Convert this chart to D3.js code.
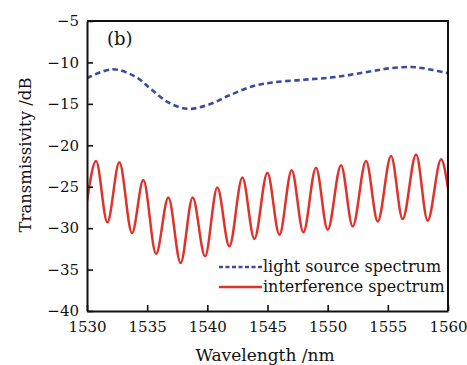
<!DOCTYPE html>
<html>
<head>
<meta charset="utf-8">
<script src="https://cdn.jsdelivr.net/npm/d3@7"></script>
<style>
  html, body { margin: 0; padding: 0; background: #fff; }
  svg { display: block; }
  text { font-family: "DejaVu Serif", "Liberation Serif", serif; fill: #111; }
</style>
</head>
<body>
<svg id="chart" width="467" height="365"></svg>
<script>
// Wavelength axis (nm) and transmissivity axis (dB)
const xTicks = [1530, 1535, 1540, 1545, 1550, 1555, 1560];
const yTicks = [-40, -35, -30, -25, -20, -15, -10, -5];

// Light source spectrum (broad envelope)
const sourceWl = [1530.0, 1532.1, 1534.0, 1535.3, 1536.8, 1538.4, 1540.1, 1541.8, 1543.7, 1545.5, 1548.0, 1550.7, 1553.5, 1555.2, 1557.0, 1558.5, 1560.0];
const sourceDb = [-11.9, -10.83, -11.7, -13.2, -14.86, -15.6, -15.1, -14.0, -12.9, -12.4, -12.1, -11.75, -11.1, -10.7, -10.55, -10.85, -11.3];

// Interference spectrum: fringe peaks and dips
const fringeWl = [1530.0, 1530.75, 1531.69, 1532.69, 1533.74, 1534.68, 1535.74, 1536.76, 1537.78, 1538.78, 1539.81, 1540.83, 1541.83, 1542.91, 1543.91, 1544.99, 1545.99, 1547.01, 1547.98, 1549.03, 1550.0, 1551.11, 1552.08, 1553.19, 1554.16, 1555.27, 1556.23, 1557.35, 1558.31, 1559.43, 1560.0];
const fringeDb = [-26.8, -21.9, -29.3, -22.05, -30.6, -24.2, -33.1, -26.3, -34.2, -26.3, -33.4, -25.1, -32.2, -23.9, -31.3, -23.3, -30.8, -23.0, -30.5, -22.7, -30.2, -22.4, -29.8, -21.9, -29.2, -21.3, -28.9, -21.1, -29.1, -21.7, -25.2];

const legendLabels = ["light source spectrum", "interference spectrum"];
const panelLabel = "(b)";

const svg = d3.select("#chart");
const m = { left: 87, top: 21, right: 448, bottom: 311 };

const x = d3.scaleLinear().domain([1530, 1560]).range([m.left, m.right]);
const y = d3.scaleLinear().domain([-40, -5]).range([m.bottom, m.top]);

const plot = svg.append("g");
svg.append("clipPath").attr("id", "plotclip")
  .append("rect").attr("x", m.left).attr("y", m.top)
  .attr("width", m.right - m.left).attr("height", m.bottom - m.top);

const line = d3.line().x(d => x(d[0])).y(d => y(d[1]));

const sourcePts = sourceWl.map((w, i) => [w, sourceDb[i]]);
const fringePts = fringeWl.map((w, i) => [w, fringeDb[i]]);

plot.append("path")
  .datum(fringePts)
  .attr("clip-path", "url(#plotclip)")
  .attr("d", line.curve(d3.curveMonotoneX))
  .attr("fill", "none")
  .attr("stroke", "#e0322b")
  .attr("stroke-width", 2.5);

plot.append("path")
  .datum(sourcePts)
  .attr("clip-path", "url(#plotclip)")
  .attr("d", line.curve(d3.curveCatmullRom))
  .attr("fill", "none")
  .attr("stroke", "#3a4aa0")
  .attr("stroke-width", 2.6)
  .attr("stroke-dasharray", "5.5,3.5");

// Axes with inward ticks
const xAxis = svg.append("g")
  .attr("transform", `translate(0,${m.bottom})`)
  .call(d3.axisBottom(x).tickValues(xTicks).tickSizeInner(-6).tickSizeOuter(0).tickPadding(10).tickFormat(d3.format("d")));
const yAxis = svg.append("g")
  .attr("transform", `translate(${m.left},0)`)
  .call(d3.axisLeft(y).tickValues(yTicks).tickSizeInner(-6).tickSizeOuter(0).tickPadding(8));

[xAxis, yAxis].forEach(g => {
  g.select(".domain").attr("stroke", "#111").attr("stroke-width", 2);
  g.selectAll(".tick line").attr("stroke", "#111").attr("stroke-width", 1.6);
  g.selectAll(".tick text").style("font-family", "DejaVu Serif, serif").style("font-size", "15px").attr("fill", "#111");
});

// Top and right frame
svg.append("path")
  .attr("d", `M${m.left},${m.top}H${m.right}V${m.bottom}`)
  .attr("fill", "none").attr("stroke", "#111").attr("stroke-width", 2);

// Axis titles
svg.append("text")
  .attr("x", 265)
  .attr("y", 361)
  .attr("text-anchor", "middle")
  .style("font-size", "17px")
  .text("Wavelength /nm");

svg.append("text")
  .attr("transform", `translate(31,155) rotate(-90)`)
  .attr("text-anchor", "middle")
  .style("font-size", "16.5px")
  .text("Transmissivity /dB");

svg.append("text")
  .attr("x", 107)
  .attr("y", 45)
  .style("font-size", "18px")
  .text(panelLabel);

// Legend
const legend = svg.append("g");
const legendRows = [
  { label: legendLabels[0], color: "#3a4aa0", dash: "4,2.5", yy: 267 },
  { label: legendLabels[1], color: "#e0322b", dash: null, yy: 287 }
];
legendRows.forEach(r => {
  legend.append("line")
    .attr("x1", 219).attr("x2", 262)
    .attr("y1", r.yy).attr("y2", r.yy)
    .attr("stroke", r.color).attr("stroke-width", 2.3)
    .attr("stroke-dasharray", r.dash);
  legend.append("text")
    .attr("x", 263).attr("y", r.yy + 5)
    .style("font-size", "16px")
    .text(r.label);
});
</script>
</body>
</html>
